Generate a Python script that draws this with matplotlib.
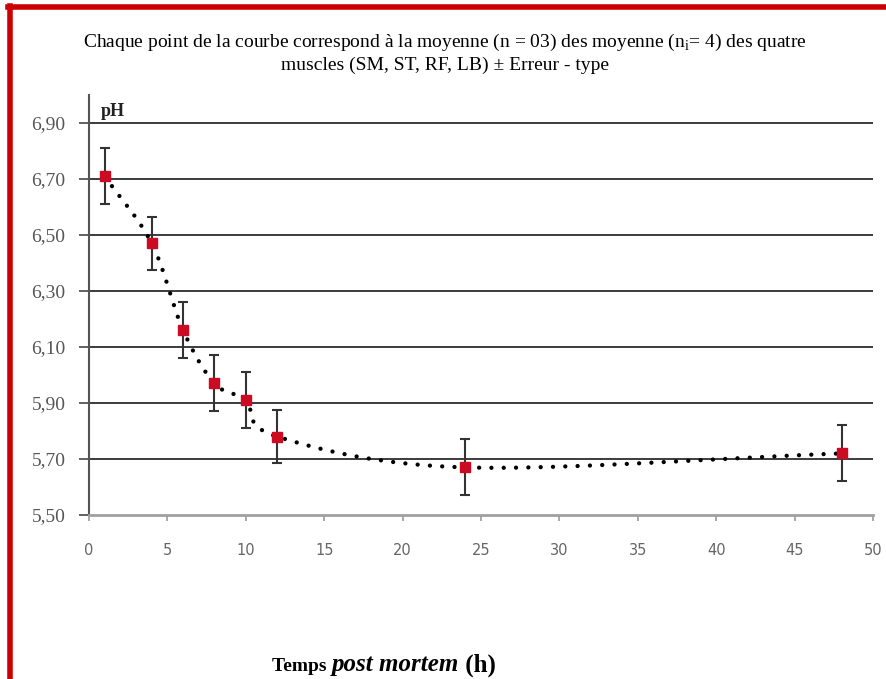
import numpy as np
import matplotlib
matplotlib.use("Agg")
import matplotlib.pyplot as plt
from matplotlib.offsetbox import TextArea, HPacker, AnnotationBbox
from matplotlib.ticker import FuncFormatter
from matplotlib.lines import Line2D

plt.rcParams['font.family'] = ['Liberation Serif', 'DejaVu Serif']
plt.rcParams['mathtext.fontset'] = 'custom'
plt.rcParams['mathtext.rm'] = 'Liberation Serif'

# ---- data ----
hours = [1, 4, 6, 8, 10, 12, 24, 48]
ph_mean = [6.71, 6.47, 6.16, 5.97, 5.91, 5.78, 5.67, 5.72]
ph_err = [0.10, 0.095, 0.10, 0.10, 0.10, 0.095, 0.10, 0.10]
y_ticks = [5.50, 5.70, 5.90, 6.10, 6.30, 6.50, 6.70, 6.90]
x_ticks = [0, 5, 10, 15, 20, 25, 30, 35, 40, 45, 50]

title = ("Chaque point de la courbe correspond à la moyenne (n = 03) des moyenne "
         "(n$_\\mathrm{i}$= 4) des quatre\nmuscles (SM, ST, RF, LB) ± Erreur - type")

W, H = 887, 679
fig = plt.figure(figsize=(W / 100, H / 100), dpi=100)
fig.patch.set_facecolor('white')

ax = fig.add_axes([89 / W, 1 - 515 / H, (873 - 89) / W, (515 - 95) / H])
ax.set_xlim(0, 50)
ax.set_ylim(5.50, 7.00)


def smooth(xs, ys, n=40):
    # Catmull-Rom curve in display-proportional space (like a smoothed line)
    sx, sy = 784 / 50.0, 420 / 1.5
    P = np.column_stack([np.asarray(xs) * sx, np.asarray(ys) * sy])
    P = np.vstack([2 * P[0] - P[1], P, 2 * P[-1] - P[-2]])
    out = []
    for i in range(1, len(P) - 2):
        p0, p1, p2, p3 = P[i - 1], P[i], P[i + 1], P[i + 2]
        t = np.linspace(0, 1, n)[:, None]
        seg = 0.5 * ((2 * p1) + (-p0 + p2) * t + (2 * p0 - 5 * p1 + 4 * p2 - p3) * t ** 2
                     + (-p0 + 3 * p1 - 3 * p2 + p3) * t ** 3)
        out.append(seg if i == len(P) - 3 else seg[:-1])
    out = np.vstack(out)
    return out[:, 0] / sx, out[:, 1] / sy


# grid lines
for yv in y_ticks[1:]:
    ax.axhline(yv, color='#3c3c3c', lw=1.4, zorder=1)

cx, cy = smooth(hours, ph_mean)
ax.plot(cx, cy, color='black', lw=3.1, linestyle=(0, (0.01, 2.85)),
        dash_capstyle='round', zorder=3)
ax.errorbar(hours, ph_mean, yerr=ph_err, fmt='none', ecolor='#333333',
            elinewidth=1.5, capsize=3.3, capthick=1.5, zorder=4)
ax.plot(hours, ph_mean, linestyle='none', marker='s', markersize=7,
        color='#cc0a22', markeredgecolor='#cc0a22', zorder=5)

ax.set_yticks(y_ticks)
ax.set_xticks(x_ticks)
ax.yaxis.set_major_formatter(FuncFormatter(lambda v, p: f"{v:.2f}".replace('.', ',')))
ax.tick_params(axis='y', direction='out', length=7, width=1.3, color='#555555',
               labelsize=14, labelcolor='#555555', pad=10)
ax.tick_params(axis='x', direction='out', length=4, width=1.2, color='#999999',
               labelsize=10.5, labelcolor='#666666', pad=16)
for lab in ax.get_xticklabels():
    lab.set_fontfamily('DejaVu Sans')

for s in ['top', 'right']:
    ax.spines[s].set_visible(False)
ax.spines['left'].set_color('#555555')
ax.spines['left'].set_linewidth(1.5)
ax.spines['bottom'].set_color('#a0a0a0')
ax.spines['bottom'].set_linewidth(2)

ax.text(0.75, 6.912, 'pH', fontsize=13, fontweight='bold', color='#222222',
        ha='left', va='bottom')

fig.text(445 / W, 1 - 53 / H, title, ha='center', va='center', fontsize=14,
         linespacing=1.25)

# x-axis label
parts = [TextArea('Temps ', textprops=dict(fontsize=14, fontweight='bold')),
         TextArea('post mortem', textprops=dict(fontsize=18, fontweight='bold', style='italic')),
         TextArea(' (h)', textprops=dict(fontsize=18, fontweight='bold'))]
box = HPacker(children=parts, align='baseline', pad=0, sep=0)
ab = AnnotationBbox(box, (384 / W, 1 - 665 / H), xycoords='figure fraction',
                    frameon=False, box_alignment=(0.5, 0.5))
fig.add_artist(ab)

# red frame
fig.add_artist(Line2D([10 / W, 10 / W], [0, 1 - 6 / H], transform=fig.transFigure,
                      color='#cc0000', lw=4))
fig.add_artist(Line2D([8 / W, 1], [1 - 7 / H, 1 - 7 / H], transform=fig.transFigure,
                      color='#cc0000', lw=4))

fig.savefig('out.png', dpi=100)
